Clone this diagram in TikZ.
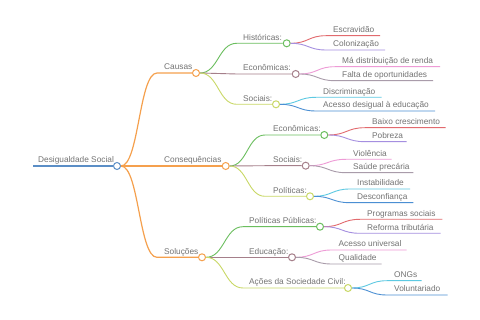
\documentclass[tikz,border=0pt]{standalone}
\usepackage{fontspec}
\setmainfont{Liberation Sans}
\usetikzlibrary{calc}
\definecolor{rootc}{HTML}{5B8EC6}
\definecolor{orng}{HTML}{F5A04D}
\definecolor{grn}{HTML}{6BBE5E}
\definecolor{mauv}{HTML}{A57F8A}
\definecolor{ylw}{HTML}{C9D866}
\definecolor{redc}{HTML}{E26A6E}
\definecolor{purp}{HTML}{A58FE0}
\definecolor{pinkc}{HTML}{EE9BD6}
\definecolor{gryc}{HTML}{A99CAA}
\definecolor{cyanc}{HTML}{5DC9E2}
\definecolor{blu}{HTML}{4B8FD3}
\definecolor{txtgray}{HTML}{737373}
\tikzset{
  lbl/.style={anchor=base west, inner sep=0pt, font=\fontsize{8.3}{9}\selectfont, text=txtgray},
  dotc/.style={circle, draw=#1, fill=white, line width=1pt, minimum size=7pt, inner sep=0pt},
  br/.style={draw=#1, line width=0.9pt},
  brA/.style={draw=#1, line width=1.2pt},
  sc/.style={to path={let \p1=(\tikztostart), \p2=(\tikztotarget) in
     .. controls ({(\x1+\x2)/2},\y1) and ({(\x1+\x2)/2},\y2) .. (\tikztotarget) \tikztonodes}}
}
\begin{document}
\begin{tikzpicture}[x=1pt,y=-1pt]
\path[use as bounding box, fill=white] (0,0) rectangle (480,320);

% root
\coordinate (r0) at (33,166);
\node[dotc=rootc] (root) at (117,166) {};
\node[lbl] (root-t) at (38,163) {Desigualdade Social};
\draw[draw=rootc, line width=1.6pt] (r0) -- (root.west);

% level 1
\node[dotc=orng] (cau) at (196,73) {};
\coordinate (cau-s) at (157,73);
\node[lbl] (cau-t) at (164,70) {Causas};
\draw[brA=orng] (root.east) to[sc] (cau-s) -- (cau.west);

\node[dotc=orng] (con) at (225.7,166) {};
\node[lbl] (con-t) at (164,163) {Consequências};
\draw[brA=orng] (root.east) -- (con.west);

\node[dotc=orng] (sol) at (202,257.3) {};
\coordinate (sol-s) at (157,257.3);
\node[lbl] (sol-t) at (164,254.3) {Soluções};
\draw[brA=orng] (root.east) to[sc] (sol-s) -- (sol.west);

% level 2 - Causas
\node[dotc=grn] (hi) at (286.7,43.3) {};
\coordinate (hi-s) at (236.7,43.3);
\node[lbl] (hi-t) at (243,40.3) {Históricas:};
\draw[br=grn] (cau.east) to[sc] (hi-s) -- (hi.west);

\node[dotc=mauv] (ec) at (295.7,74) {};
\coordinate (ec-s) at (236.7,74);
\node[lbl] (ec-t) at (243,71) {Econômicas:};
\draw[br=mauv] (cau.east) to[sc] (ec-s) -- (ec.west);

\node[dotc=ylw] (so) at (276,104.3) {};
\coordinate (so-s) at (236.7,104.3);
\node[lbl] (so-t) at (243,101.3) {Sociais:};
\draw[br=ylw] (cau.east) to[sc] (so-s) -- (so.west);

% level 2 - Consequencias
\node[dotc=grn] (eq) at (324.3,135) {};
\coordinate (eq-s) at (265,135);
\node[lbl] (eq-t) at (273,132) {Econômicas:};
\draw[br=grn] (con.east) to[sc] (eq-s) -- (eq.west);

\node[dotc=mauv] (sq) at (305.7,165.7) {};
\coordinate (sq-s) at (265,165.7);
\node[lbl] (sq-t) at (273,162.7) {Sociais:};
\draw[br=mauv] (con.east) to[sc] (sq-s) -- (sq.west);

\node[dotc=ylw] (pq) at (310,196.3) {};
\coordinate (pq-s) at (265,196.3);
\node[lbl] (pq-t) at (273,193.3) {Políticas:};
\draw[br=ylw] (con.east) to[sc] (pq-s) -- (pq.west);

% level 2 - Solucoes
\node[dotc=grn] (pp) at (320,226.7) {};
\coordinate (pp-s) at (243,226.7);
\node[lbl] (pp-t) at (249,223.7) {Políticas Públicas:};
\draw[br=grn] (sol.east) to[sc] (pp-s) -- (pp.west);

\node[dotc=mauv] (ed) at (292,257.3) {};
\coordinate (ed-s) at (243,257.3);
\node[lbl] (ed-t) at (249,254.3) {Educação:};
\draw[br=mauv] (sol.east) to[sc] (ed-s) -- (ed.west);

\node[dotc=ylw] (ac) at (348,288) {};
\coordinate (ac-s) at (243,288);
\node[lbl] (ac-t) at (249,285) {Ações da Sociedade Civil:};
\draw[br=ylw] (sol.east) to[sc] (ac-s) -- (ac.west);

% leaves
\foreach \pa/\nm/\tx/\ee/\yy/\cl/\txt in {
  hi/l1/333/380/35.7/redc/Escravidão,
  hi/l2/333/385/50/purp/Colonização,
  ec/l3/342/440/66.7/pinkc/Má distribuição de renda,
  ec/l4/342/433/80.7/gryc/Falta de oportunidades,
  so/l5/323/381.7/97.3/cyanc/Discriminação,
  so/l6/323/435/111/blu/Acesso desigual à educação,
  eq/l7/372/445.7/127.7/redc/Baixo crescimento,
  eq/l8/372/406.7/141.7/purp/Pobreza,
  sq/l9/353/391.7/159.3/pinkc/Violência,
  sq/l10/353/413.3/172.7/gryc/Saúde precária,
  pq/l11/357/410/189/cyanc/Instabilidade,
  pq/l12/357/413.3/202.7/blu/Desconfiança,
  pp/l13/367/442.3/219.3/redc/Programas sociais,
  pp/l14/367/440.7/233.3/purp/Reforma tributária,
  ed/l15/338.5/406.7/250/pinkc/Acesso universal,
  ed/l16/338.5/381.7/264/gryc/Qualidade,
  ac/l17/394/421.7/280.7/cyanc/ONGs,
  ac/l18/394/447.7/295/blu/Voluntariado}{
  \coordinate (\nm-s) at (\tx-7,\yy);
  \coordinate (\nm-e) at (\ee,\yy);
  \node[lbl] (\nm-t) at (\tx,\yy-3) {\txt};
  \draw[br=\cl] (\pa.east) to[sc] (\nm-s) -- (\nm-e);
}
\end{tikzpicture}
\end{document}
